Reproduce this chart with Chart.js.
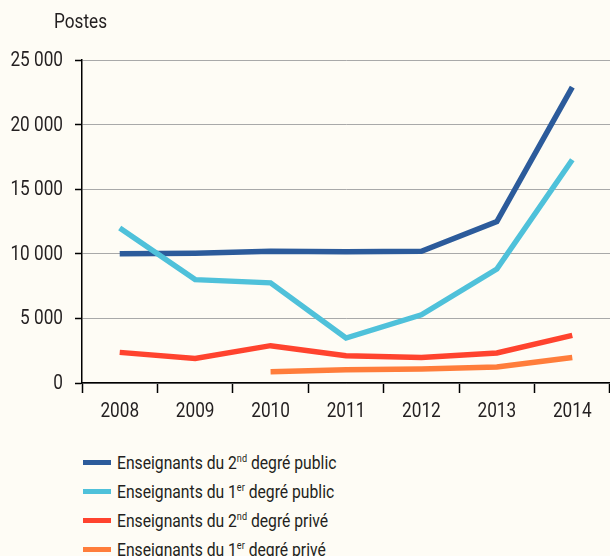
<!DOCTYPE html>
<html lang="fr">
<head>
<meta charset="utf-8">
<title>Postes</title>
<script src="https://cdn.jsdelivr.net/npm/chart.js@4.4.1/dist/chart.umd.min.js"></script>
<style>
  html, body { margin: 0; padding: 0; background: #fefcf5; }
  body {
    width: 610px; height: 556px; position: relative; overflow: hidden;
    font-family: Roboto, "DejaVu Sans Condensed", sans-serif;
    color: #231f20;
  }
  #wrap { position: absolute; left: 0; top: 0; width: 610px; height: 430px; }
  #legend {
    position: absolute; left: 83px; top: 448px;
    list-style: none; margin: 0; padding: 0; font-size: 19px;
  }
  #legend li { height: 29px; display: flex; align-items: center; }
  #legend .sw { width: 28px; height: 5px; margin-right: 6px; flex: none; }
  #legend .txt { display: inline-block; white-space: nowrap; transform: scaleX(0.826); transform-origin: left center; }
  #legend sup { font-size: 0.58em; vertical-align: 0.6em; line-height: 0; }
</style>
</head>
<body>
<div id="wrap"><canvas id="postesChart" width="610" height="430"></canvas></div>
<ul id="legend"></ul>
<script>
const years = ['2008', '2009', '2010', '2011', '2012', '2013', '2014'];

const labels = [
    'Enseignants du 2nd degré public',
    'Enseignants du 1er degré public',
    'Enseignants du 2nd degré privé',
    'Enseignants du 1er degré privé'
];
const colors = ['#2c5b9b', '#4fc1da', '#ff432e', '#ff7d3b'];

const secondPublic = [10000, 10050, 10200, 10150, 10200, 12500, 22900];
const firstPublic = [12000, 8000, 7750, 3480, 5280, 8820, 17280];
const secondPrive = [2370, 1900, 2890, 2110, 1980, 2320, 3690];
const firstPrive = [null, null, 870, 1030, 1080, 1240, 1980];

const yTicks = [0, 5000, 10000, 15000, 20000, 25000];

const series = [secondPublic, firstPublic, secondPrive, firstPrive];
const font = "20px Roboto, 'DejaVu Sans Condensed', sans-serif";
const narrow = 0.86;
const textColor = '#231f20';

// "25 000" style thousands
function spaced(v) {
    return String(v).replace(/\B(?=(\d{3})+(?!\d))/g, ' ');
}

// condensed text: squeeze the glyphs horizontally around the anchor
function narrowText(ctx, text, x, y, align) {
    ctx.save();
    ctx.translate(x, y);
    ctx.scale(narrow, 1);
    ctx.textAlign = align;
    ctx.fillText(text, 0, 0);
    ctx.restore();
}

// axis labels and unit drawn in a condensed face
const axisText = {
    id: 'axisText',
    afterDraw(chart) {
        const ctx = chart.ctx;
        const xs = chart.scales.x;
        const ys = chart.scales.y;
        ctx.save();
        ctx.font = font;
        ctx.fillStyle = textColor;
        ctx.textBaseline = 'middle';
        xs.ticks.forEach((t, i) => {
            narrowText(ctx, xs.getLabelForValue(t.value), xs.getPixelForTick(i), xs.top + 29, 'center');
        });
        ys.ticks.forEach(t => {
            narrowText(ctx, spaced(t.value), ys.right - 19, ys.getPixelForValue(t.value) + 1, 'right');
        });
        narrowText(ctx, 'Postes', 54, 23, 'left');
        ctx.restore();
    }
};

const chart = new Chart(document.getElementById('postesChart'), {
    type: 'line',
    data: {
        labels: years,
        datasets: series.map((data, i) => ({
            label: labels[i],
            data: data,
            borderColor: colors[i],
            backgroundColor: colors[i],
            borderWidth: 5.5,
            borderCapStyle: 'butt',
            borderJoinStyle: 'miter',
            pointRadius: 0,
            tension: 0,
            spanGaps: false,
            order: 4 - i
        }))
    },
    options: {
        responsive: false,
        animation: false,
        layout: { padding: { top: 60, right: 0, left: 0, bottom: 0 } },
        plugins: {
            legend: { display: false },
            tooltip: { enabled: false }
        },
        scales: {
            x: {
                offset: true,
                grid: {
                    offset: true,
                    drawOnChartArea: false,
                    drawTicks: true,
                    tickLength: 10,
                    tickColor: '#000',
                    tickWidth: 1.5
                },
                border: { color: '#000', width: 1.5 },
                ticks: { display: false },
                afterFit(scale) { scale.height = 47; }
            },
            y: {
                min: 0,
                max: 25000,
                afterBuildTicks(scale) { scale.ticks = yTicks.map(v => ({ value: v })); },
                grid: {
                    color: '#a9a9a9',
                    lineWidth: 1,
                    tickLength: 7,
                    tickColor: '#000',
                    tickWidth: 1.5
                },
                border: { color: '#000', width: 1.5 },
                ticks: { display: false },
                afterFit(scale) { scale.width = 82; }
            }
        }
    },
    plugins: [axisText]
});

// legend with superscript ordinals
const legend = document.getElementById('legend');
chart.data.datasets.forEach(ds => {
    const li = document.createElement('li');
    const sw = document.createElement('span');
    sw.className = 'sw';
    sw.style.background = ds.borderColor;
    const txt = document.createElement('span');
    txt.className = 'txt';
    txt.innerHTML = ds.label.replace(/(\d)(nd|er)\b/, '$1<sup>$2</sup>');
    li.appendChild(sw);
    li.appendChild(txt);
    legend.appendChild(li);
});
</script>
</body>
</html>
